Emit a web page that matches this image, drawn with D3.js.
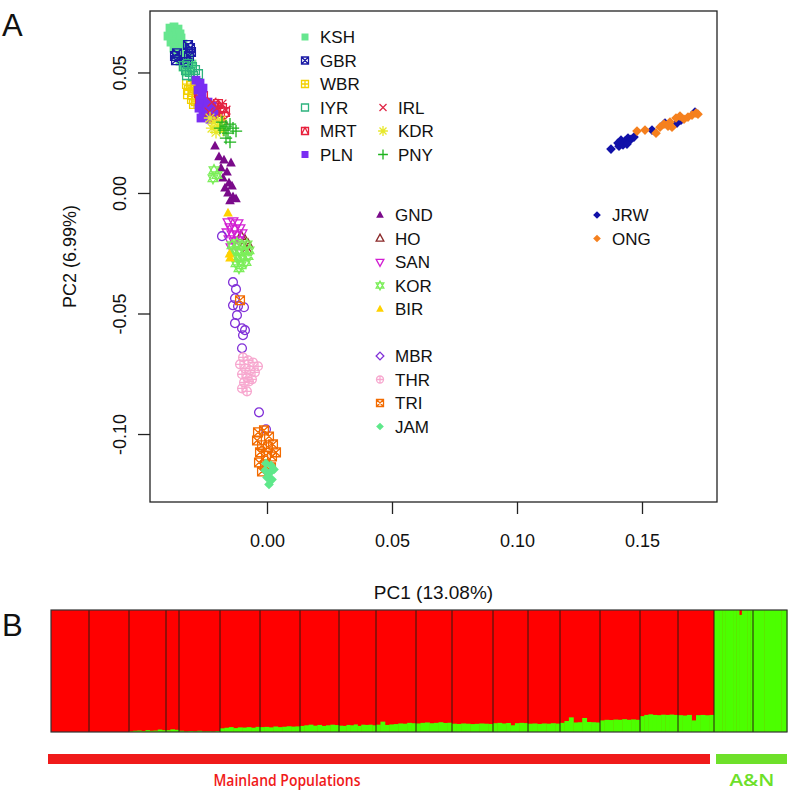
<!DOCTYPE html>
<html>
<head>
<meta charset="utf-8">
<script src="https://cdn.jsdelivr.net/npm/d3@7"></script>
<style>
body { margin: 0; background: #fff; }
svg text { font-family: "Liberation Sans", Arial, sans-serif; fill: #111; }
</style>
</head>
<body>
<svg id="fig" width="793" height="803"></svg>
<script>
// ---------------------------------------------------------------
// Panel A data : PC1 / PC2 of every population
// ---------------------------------------------------------------
var KSH = [[-0.0388,0.0684],[-0.0372,0.0689],[-0.0356,0.0680],[-0.0380,0.0668],[-0.0364,0.0664],[-0.0348,0.0660],
           [-0.0396,0.0651],[-0.0376,0.0643],[-0.0360,0.0635],[-0.0344,0.0643],[-0.0384,0.0626],[-0.0368,0.0618],
           [-0.0352,0.0610],[-0.0336,0.0618],[-0.0372,0.0601],[-0.0356,0.0593],[-0.0340,0.0585],[-0.0324,0.0593],
           [-0.0360,0.0572],[-0.0344,0.0564],[-0.0328,0.0560],[-0.0312,0.0568],[-0.0348,0.0547],[-0.0332,0.0539],
           [-0.0316,0.0543],[-0.0300,0.0535],[-0.0336,0.0522],[-0.0320,0.0518],[-0.0304,0.0510],[-0.0324,0.0502]];
var GBR = [[-0.0360,0.0580],[-0.0368,0.0568],[-0.0364,0.0551],[-0.0316,0.0614],[-0.0308,0.0601],[-0.0304,0.0585],
           [-0.0312,0.0568],[-0.0324,0.0543]];
var WBR = [[-0.0320,0.0452],[-0.0304,0.0444],[-0.0312,0.0427],[-0.0296,0.0419],[-0.0316,0.0410],[-0.0288,0.0435],
           [-0.0300,0.0390],[-0.0284,0.0381],[-0.0268,0.0373],[-0.0292,0.0369]];
var IYR = [[-0.0332,0.0527],[-0.0316,0.0535],[-0.0300,0.0522],[-0.0324,0.0510],[-0.0308,0.0502],[-0.0288,0.0510],
           [-0.0276,0.0493],[-0.0296,0.0485],[-0.0320,0.0489]];
var MRT = [[-0.0272,0.0414],[-0.0256,0.0402],[-0.0268,0.0385],[-0.0212,0.0360],[-0.0196,0.0369],[-0.0180,0.0352],
           [-0.0204,0.0336],[-0.0188,0.0319],[-0.0168,0.0336],[-0.0220,0.0327]];
var PLN = [[-0.0284,0.0468],[-0.0268,0.0456],[-0.0256,0.0435],[-0.0276,0.0427],[-0.0260,0.0410],[-0.0268,0.0385],
           [-0.0252,0.0369],[-0.0272,0.0352],[-0.0256,0.0336],[-0.0240,0.0348],[-0.0244,0.0319],[-0.0228,0.0306],
           [-0.0212,0.0327],[-0.0264,0.0311],[-0.0220,0.0360],[-0.0236,0.0377]];
var IRL = [[-0.0220,0.0377],[-0.0200,0.0352],[-0.0180,0.0369],[-0.0164,0.0344],[-0.0208,0.0311],[-0.0172,0.0302],
           [-0.0232,0.0336]];
var KDR = [[-0.0228,0.0311],[-0.0212,0.0294],[-0.0196,0.0277],[-0.0220,0.0269],[-0.0204,0.0252],[-0.0184,0.0302],
           [-0.0176,0.0261]];
var PNY = [[-0.0180,0.0294],[-0.0164,0.0277],[-0.0148,0.0286],[-0.0172,0.0261],[-0.0156,0.0248],[-0.0136,0.0269],
           [-0.0124,0.0257],[-0.0164,0.0228],[-0.0148,0.0211],[-0.0188,0.0269]];
var GND = [[-0.0208,0.0194],[-0.0192,0.0149],[-0.0172,0.0136],[-0.0144,0.0124],[-0.0184,0.0103],[-0.0160,0.0086],
           [-0.0176,0.0061],[-0.0152,0.0041],[-0.0168,0.0020],[-0.0140,0.0028],[-0.0156,-0.0001],[-0.0136,-0.0017],
           [-0.0148,-0.0033],[-0.0124,-0.0025]];
var HO  = [[-0.0104,-0.0179],[-0.0088,-0.0196],[-0.0076,-0.0213],[-0.0096,-0.0221],[-0.0080,-0.0238]];
var SAN = [[-0.0156,-0.0121],[-0.0136,-0.0117],[-0.0116,-0.0125],[-0.0148,-0.0142],[-0.0128,-0.0150],[-0.0108,-0.0146],
           [-0.0160,-0.0163],[-0.0140,-0.0171],[-0.0120,-0.0175],[-0.0100,-0.0167],[-0.0152,-0.0192],[-0.0132,-0.0200],
           [-0.0112,-0.0196],[-0.0144,-0.0225],[-0.0124,-0.0217]];
var KOR = [[-0.0212,0.0095],[-0.0200,0.0074],[-0.0216,0.0061],[-0.0140,-0.0217],[-0.0120,-0.0208],[-0.0100,-0.0221],
           [-0.0080,-0.0213],[-0.0132,-0.0238],[-0.0112,-0.0246],[-0.0092,-0.0242],[-0.0072,-0.0238],[-0.0136,-0.0262],
           [-0.0116,-0.0271],[-0.0096,-0.0267],[-0.0076,-0.0262],[-0.0124,-0.0292],[-0.0104,-0.0300],[-0.0084,-0.0287],
           [-0.0112,-0.0312]];
var BIR = [[-0.0156,-0.0084],[-0.0148,-0.0271],[-0.0150,-0.0254]];
var MBR = [[-0.0180,-0.0179],[-0.0136,-0.0370],[-0.0124,-0.0399],[-0.0128,-0.0437],[-0.0136,-0.0466],[-0.0116,-0.0470],
           [-0.0092,-0.0474],[-0.0120,-0.0507],[-0.0128,-0.0540],[-0.0100,-0.0561],[-0.0088,-0.0569],[-0.0096,-0.0590],
           [-0.0100,-0.0644],[-0.0032,-0.0910],[-0.0004,-0.0980]];
var THR = [[-0.0096,-0.0682],[-0.0076,-0.0694],[-0.0056,-0.0703],[-0.0036,-0.0719],[-0.0108,-0.0711],[-0.0088,-0.0728],
           [-0.0068,-0.0736],[-0.0048,-0.0744],[-0.0100,-0.0752],[-0.0080,-0.0765],[-0.0060,-0.0773],[-0.0092,-0.0786],
           [-0.0072,-0.0782],[-0.0100,-0.0811],[-0.0080,-0.0823]];
var TRI = [[-0.0036,-0.0993],[-0.0012,-0.0985],[0.0008,-0.1010],[-0.0040,-0.1027],[-0.0020,-0.1047],[0.0004,-0.1055],
           [0.0024,-0.1043],[-0.0028,-0.1076],[-0.0004,-0.1089],[0.0020,-0.1093],[0.0036,-0.1076],[-0.0032,-0.1118],
           [-0.0008,-0.1130],[0.0016,-0.1138],[-0.0020,-0.1155],[-0.0108,-0.0445]];
var JAM = [[-0.0004,-0.1122],[0.0016,-0.1130],[-0.0008,-0.1151],[0.0012,-0.1160],[0.0028,-0.1147],[0.0000,-0.1180],
           [0.0020,-0.1189],[0.0008,-0.1209]];
var JRW = [[0.1376,0.0182],[0.1404,0.0207],[0.1416,0.0219],[0.1432,0.0215],[0.1444,0.0228],[0.1456,0.0223],
           [0.1468,0.0232],[0.1408,0.0194],[0.1424,0.0199],[0.1440,0.0203],[0.1540,0.0261],[0.1592,0.0290],
           [0.1640,0.0290],[0.1656,0.0302],[0.1712,0.0336]];
var ONG = [[0.1480,0.0257],[0.1512,0.0261],[0.1556,0.0248],[0.1572,0.0273],[0.1588,0.0286],[0.1604,0.0277],
           [0.1620,0.0273],[0.1636,0.0311],[0.1652,0.0319],[0.1668,0.0306],[0.1684,0.0315],[0.1700,0.0323],
           [0.1716,0.0331],[0.1724,0.0327],[0.1612,0.0294]];

var popNames = ["KSH","GBR","WBR","IYR","MRT","PLN","IRL","KDR","PNY","GND","HO","SAN","KOR","BIR",
                "MBR","THR","TRI","JAM","JRW","ONG"];
var popData = {KSH:KSH, GBR:GBR, WBR:WBR, IYR:IYR, MRT:MRT, PLN:PLN, IRL:IRL, KDR:KDR, PNY:PNY, GND:GND,
               HO:HO, SAN:SAN, KOR:KOR, BIR:BIR, MBR:MBR, THR:THR, TRI:TRI, JAM:JAM, JRW:JRW, ONG:ONG};

var xTicks = [0, 0.05, 0.10, 0.15];
var yTicks = [-0.10, -0.05, 0, 0.05];

// ---------------------------------------------------------------
// Panel B data : admixture (K=2), sample count per block and
// A&N (green) ancestry fraction of the individuals in the block
// ---------------------------------------------------------------
var admixSizes = [38,40,37,13,41,40,40,39,37,40,36,41,35,32,40,40,38,36,39,34];
var admixGreen = [
  [0,0,0,0,0,0,0,0],
  [0,0,0,0,0,0,0,0],
  [0.005,0.01,0.012,0.008,0.015,0.01,0.012,0.02,0.015],
  [0.015,0.022,0.018],
  [0.01,0.005,0.008,0.006,0.01,0.005,0.006,0.004,0.008],
  [0.03,0.035,0.04,0.032,0.038,0.036,0.04,0.035,0.042],
  [0.04,0.042,0.038,0.045,0.04,0.043,0.047,0.044,0.046],
  [0.05,0.055,0.06,0.052,0.058,0.05,0.055,0.06,0.057],
  [0.052,0.05,0.058,0.055,0.062,0.05,0.06,0.058,0.06,0.055],
  [0.06,0.085,0.058,0.062,0.065,0.07,0.068,0.075,0.072],
  [0.07,0.075,0.078,0.072,0.075,0.08,0.074,0.076],
  [0.068,0.066,0.07,0.068,0.065,0.067,0.07,0.068,0.066],
  [0.072,0.075,0.07,0.074,0.055,0.072,0.075,0.073],
  [0.068,0.07,0.066,0.07,0.068,0.072,0.069],
  [0.075,0.09,0.12,0.078,0.08,0.115,0.082,0.08,0.078],
  [0.095,0.1,0.098,0.102,0.1,0.105,0.1,0.103,0.1],
  [0.13,0.14,0.145,0.14,0.138,0.142,0.14,0.143,0.14],
  [0.138,0.135,0.14,0.095,0.138,0.14,0.137,0.14],
  [1,1,1,1,1,1,1,1,1,0.96,1,1,1,1],
  [1,1,1,1,1,1]
];
var groupLabels = ["Mainland Populations", "A&N"];
var groupSizes = [663, 73];

// ---------------------------------------------------------------
// styles
// ---------------------------------------------------------------
var popStyle = {
  KSH:{col:"#66E68F", pch:"sqf"},  GBR:{col:"#1B1BA6", pch:"sqx"},  WBR:{col:"#F2D000", pch:"sqp"},
  IYR:{col:"#2DB37E", pch:"sqo"},  MRT:{col:"#E8203C", pch:"sqt"},  PLN:{col:"#7A2EF2", pch:"sqf"},
  IRL:{col:"#E02848", pch:"x"},    KDR:{col:"#E8E82A", pch:"ast"},  PNY:{col:"#1DB31D", pch:"plus"},
  GND:{col:"#7A0A8A", pch:"trif"}, HO:{col:"#8B2A2A", pch:"trio"},  SAN:{col:"#D21ED2", pch:"trid"},
  KOR:{col:"#7CEE5A", pch:"star"}, BIR:{col:"#FFD200", pch:"trif"}, MBR:{col:"#8030D8", pch:"circ"},
  THR:{col:"#F7A8CF", pch:"cplus"},TRI:{col:"#F26B00", pch:"sqx"},  JAM:{col:"#5EE88A", pch:"dmf"},
  JRW:{col:"#1010A8", pch:"dmf"},  ONG:{col:"#F5801E", pch:"dmf"}
};
var legendCols = [
  {x:305, y0:37,    items:["KSH","GBR","WBR","IYR","MRT","PLN"]},
  {x:383, y0:107.5, items:["IRL","KDR","PNY"]},
  {x:380, y0:215,   items:["GND","HO","SAN","KOR","BIR",null,"MBR","THR","TRI","JAM"]},
  {x:597, y0:215,   items:["JRW","ONG"]}
];
var legendStep = 23.5;

var svg = d3.select("#fig");

// R style plotting symbols
function drawPch(g, pch, col, s) {
  var sw = 1.3;
  function line(d) { g.append("path").attr("d", d).attr("fill", "none").attr("stroke", col).attr("stroke-width", sw); }
  function fill(d) { g.append("path").attr("d", d).attr("fill", col); }
  var sq = `M${-s},${-s}H${s}V${s}H${-s}Z`;
  var xx = `M${-s},${-s}L${s},${s}M${-s},${s}L${s},${-s}`;
  var pl = `M0,${-s}V${s}M${-s},0H${s}`;
  var tu = `M0,${-1.25*s}L${1.1*s},${0.75*s}L${-1.1*s},${0.75*s}Z`;
  var td = `M0,${1.25*s}L${1.1*s},${-0.75*s}L${-1.1*s},${-0.75*s}Z`;
  switch (pch) {
    case "sqf": fill(sq); break;
    case "sqo": line(sq); break;
    case "sqx": line(sq + xx); break;
    case "sqp": line(sq + pl); break;
    case "sqt": line(sq + `M${-s},${s}L0,${-s}L${s},${s}`); break;
    case "x":   line(xx); break;
    case "plus": line(`M0,${-1.4*s}V${1.4*s}M${-1.4*s},0H${1.4*s}`); break;
    case "ast": line(`M0,${-1.4*s}V${1.4*s}M${-1.4*s},0H${1.4*s}` + xx); break;
    case "trif": fill(tu); break;
    case "trio": line(tu); break;
    case "trid": line(td); break;
    case "star": line(tu + td); break;
    case "circ": g.append("circle").attr("r", s).attr("fill", "none").attr("stroke", col).attr("stroke-width", sw); break;
    case "dmo": line(`M0,${-1.1*s}L${1.1*s},0L0,${1.1*s}L${-1.1*s},0Z`); break;
    case "cplus":
      g.append("circle").attr("r", s).attr("fill", "none").attr("stroke", col).attr("stroke-width", sw);
      line(pl); break;
    case "dmf": fill(`M0,${-1.1*s}L${1.1*s},0L0,${1.1*s}L${-1.1*s},0Z`); break;
  }
}

// ---------------------------------------------------------------
// Panel A : PCA scatter
// ---------------------------------------------------------------
var x = d3.scaleLinear().domain([-0.0468, 0.18]).range([150, 717]);
var y = d3.scaleLinear().domain([-0.1282, 0.0755]).range([502, 11]);

var pts = svg.append("g");
popNames.forEach(function (p) {
  popData[p].forEach(function (d) {
    var g = pts.append("g").attr("transform", "translate(" + x(d[0]) + "," + y(d[1]) + ")");
    drawPch(g, popStyle[p].pch, popStyle[p].col, 4.4);
  });
});

// box
svg.append("rect")
  .attr("x", x.range()[0]).attr("y", y.range()[1])
  .attr("width", x.range()[1] - x.range()[0]).attr("height", y.range()[0] - y.range()[1])
  .attr("fill", "none").attr("stroke", "#222").attr("stroke-width", 1.3);

// axes
var yAxis = svg.append("g").attr("transform", "translate(" + x.range()[0] + ",0)")
  .call(d3.axisLeft(y).tickValues(yTicks).tickSize(12).tickFormat(function (d) { return d.toFixed(2); }));
yAxis.select(".domain").remove();
yAxis.selectAll("line").attr("stroke", "#222").attr("stroke-width", 1.3);
yAxis.selectAll("text")
  .attr("x", null).attr("dy", null).attr("text-anchor", "middle")
  .attr("transform", "translate(-24,0) rotate(-90)")
  .style("font-size", "18px").attr("fill", "#111");

var xAxis = svg.append("g").attr("transform", "translate(0," + y.range()[0] + ")")
  .call(d3.axisBottom(x).tickValues(xTicks).tickSize(12).tickPadding(20).tickFormat(function (d) { return d.toFixed(2); }));
xAxis.select(".domain").remove();
xAxis.selectAll("line").attr("stroke", "#222").attr("stroke-width", 1.3);
xAxis.selectAll("text").style("font-size", "18px").attr("fill", "#111");

svg.append("text")
  .attr("transform", "translate(76," + ((y.range()[0] + y.range()[1]) / 2) + ") rotate(-90)")
  .attr("text-anchor", "middle").style("font-size", "18px").text("PC2 (6.99%)");
svg.append("text")
  .attr("x", (x.range()[0] + x.range()[1]) / 2).attr("y", 599)
  .attr("text-anchor", "middle").style("font-size", "19px").text("PC1 (13.08%)");

// legend
legendCols.forEach(function (c) {
  c.items.forEach(function (p, i) {
    if (!p) return;
    var yy = c.y0 + i * legendStep;
    var g = svg.append("g").attr("transform", "translate(" + c.x + "," + yy + ")");
    drawPch(g, p == "MBR" ? "dmo" : popStyle[p].pch, popStyle[p].col, 3.5);
    svg.append("text").attr("x", c.x + 15).attr("y", yy + 6)
      .style("font-size", "17px").text(p);
  });
});

svg.append("text").attr("x", 2).attr("y", 36).style("font-size", "31px").text("A");

// ---------------------------------------------------------------
// Panel B : admixture bar plot
// ---------------------------------------------------------------
var total = d3.sum(admixSizes);
var xb = d3.scaleLinear().domain([0, total]).range([51, 787]);
var yb = d3.scaleLinear().domain([0, 1]).range([732, 610]);
var starts = [0];
admixSizes.forEach(function (n, i) { starts.push(starts[i] + n); });

var bars = svg.append("g");
admixSizes.forEach(function (n, i) {
  bars.append("rect")
    .attr("x", xb(starts[i])).attr("y", yb(1))
    .attr("width", xb(starts[i + 1]) - xb(starts[i])).attr("height", yb(0) - yb(1))
    .attr("fill", "#FF0000");
  var vals = admixGreen[i];
  var w = n / vals.length;
  vals.forEach(function (v, j) {
    if (v <= 0) return;
    var x0 = xb(starts[i] + j * w), x1 = xb(starts[i] + (j + 1) * w);
    bars.append("rect")
      .attr("x", x0).attr("y", yb(v))
      .attr("width", x1 - x0 + 0.4).attr("height", yb(0) - yb(v))
      .attr("fill", "#4CFF00");
  });
});
starts.slice(1, -1).forEach(function (s) {
  bars.append("line").attr("x1", xb(s)).attr("x2", xb(s)).attr("y1", yb(1)).attr("y2", yb(0))
    .attr("stroke", "#2a1a10").attr("stroke-width", 1);
});
bars.append("rect")
  .attr("x", xb(0)).attr("y", yb(1)).attr("width", xb(total) - xb(0)).attr("height", yb(0) - yb(1))
  .attr("fill", "none").attr("stroke", "#333").attr("stroke-width", 1.2);

// group bars + labels
var groupCols = ["#F01A1A", "#6EE02A"];
var labelCx = [287, 752], labelW = [147, 45];
var gStart = 0;
groupSizes.forEach(function (n, i) {
  var x0 = xb(gStart) - (i == 0 ? 3 : -2), x1 = xb(gStart + n) - (i == 0 ? 4 : 0);
  svg.append("rect").attr("x", x0).attr("y", 754).attr("width", x1 - x0).attr("height", 10)
    .attr("fill", groupCols[i]);
  svg.append("text").attr("x", labelCx[i]).attr("y", 786).attr("text-anchor", "middle")
    .attr("textLength", labelW[i]).attr("lengthAdjust", "spacingAndGlyphs")
    .style("font-family", "'Open Sans', sans-serif").style("font-weight", "600").style("font-size", "16px")
    .style("fill", groupCols[i]).text(groupLabels[i]);
  gStart += n;
});

svg.append("text").attr("x", 2).attr("y", 636).style("font-size", "31px").text("B");
</script>
</body>
</html>
